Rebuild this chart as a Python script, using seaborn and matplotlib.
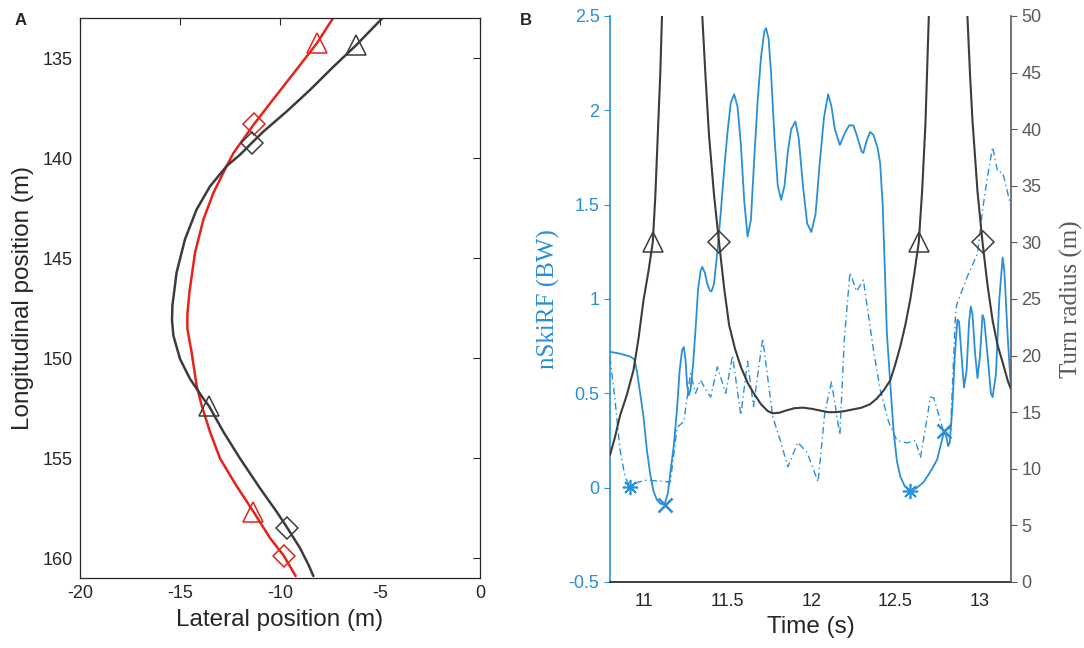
import numpy as np
import matplotlib
matplotlib.use("Agg")
import matplotlib.pyplot as plt
import seaborn as sns

# ---- panel A: trajectories (lateral, longitudinal) ----
red_lat = [-7.35, -8.15, -9.12, -9.9, -10.68, -11.3, -12.33, -12.67, -13.33, -13.83,
           -14.25, -14.53, -14.63, -14.63, -14.42, -14.17, -13.92, -13.5, -13.0,
           -12.2, -11.33, -10.5, -9.8, -9.22]
red_lon = [133.0, 134.25, 135.5, 136.5, 137.5, 138.3, 139.75, 140.4, 141.74, 143.07,
           144.73, 146.72, 147.8, 148.55, 149.71, 151.37, 152.36, 153.69, 155.02,
           156.35, 157.68, 159.0, 159.9, 160.9]
gray_lat = [-4.88, -6.2, -7.33, -8.5, -9.67, -10.83, -11.42, -12.0, -12.67, -13.5,
            -14.17, -14.75, -15.17, -15.38, -15.4, -15.33, -15.0, -14.5, -13.83,
            -13.55, -12.83, -12.0, -11.0, -10.17, -9.63, -9.0, -8.58, -8.33]
gray_lon = [133.0, 134.36, 135.43, 136.59, 137.67, 138.67, 139.25, 139.83, 140.4, 141.41,
            142.57, 144.06, 145.72, 147.38, 148.1, 148.88, 150.04, 151.04, 152.03,
            152.4, 153.69, 155.02, 156.51, 157.68, 158.5, 159.5, 160.33, 160.9]
red_tri = ([-8.15, -11.35], [134.25, 157.7])
red_dia = ([-11.3, -9.8], [138.3, 159.9])
gray_tri = ([-6.2, -13.55], [134.35, 152.4])
gray_dia = ([-11.4, -9.65], [139.25, 158.5])

# ---- panel B: nSkiRF (left axis) ----
t_solid = [10.80, 10.86, 10.92, 10.945, 10.96, 10.98, 11.00, 11.02, 11.04, 11.06,
           11.08, 11.10, 11.125, 11.145, 11.16, 11.18, 11.20, 11.215, 11.23, 11.24,
           11.25, 11.26, 11.27, 11.28, 11.295, 11.31, 11.325, 11.34, 11.35, 11.365,
           11.38, 11.395, 11.405, 11.42, 11.44, 11.46, 11.48, 11.50, 11.52, 11.54,
           11.56, 11.58, 11.60, 11.62, 11.64, 11.66, 11.68, 11.70, 11.72, 11.73,
           11.745, 11.76, 11.78, 11.80, 11.82, 11.84, 11.86, 11.88, 11.905, 11.925,
           11.95, 11.975, 12.00, 12.025, 12.05, 12.075, 12.10, 12.12, 12.14, 12.17,
           12.20, 12.225, 12.25, 12.27, 12.30, 12.31, 12.33, 12.35, 12.37, 12.395,
           12.41, 12.425, 12.44, 12.45, 12.47, 12.49, 12.51, 12.53, 12.555, 12.585,
           12.63, 12.67, 12.72, 12.75, 12.775, 12.79, 12.805, 12.815, 12.825, 12.84,
           12.855, 12.87, 12.88, 12.895, 12.91, 12.925, 12.94, 12.95, 12.96, 12.975,
           12.99, 13.005, 13.02, 13.03, 13.05, 13.07, 13.08, 13.10, 13.12, 13.14,
           13.15, 13.17, 13.19]
f_solid = [0.72, 0.71, 0.695, 0.68, 0.62, 0.50, 0.375, 0.20, 0.07, -0.02,
           -0.065, -0.085, -0.09, -0.03, 0.08, 0.22, 0.42, 0.62, 0.73, 0.745,
           0.68, 0.54, 0.49, 0.52, 0.65, 0.84, 1.05, 1.15, 1.17, 1.14,
           1.08, 1.045, 1.04, 1.08, 1.25, 1.456, 1.68, 1.88, 2.04, 2.085,
           2.02, 1.82, 1.52, 1.33, 1.42, 1.75, 2.05, 2.28, 2.42, 2.435,
           2.38, 2.2, 1.86, 1.6, 1.525, 1.6, 1.78, 1.9, 1.94, 1.85,
           1.6, 1.4, 1.355, 1.45, 1.72, 1.96, 2.085, 2.02, 1.9, 1.816,
           1.88, 1.92, 1.92, 1.87, 1.78, 1.774, 1.84, 1.885, 1.87, 1.8,
           1.72, 1.5, 1.1, 0.82, 0.555, 0.30, 0.14, 0.06, 0.01, -0.02,
           0.0, 0.03, 0.1, 0.15, 0.24, 0.295, 0.27, 0.22, 0.24, 0.42,
           0.7, 0.89, 0.88, 0.7, 0.53, 0.62, 0.88, 0.96, 0.92, 0.72,
           0.58, 0.7, 0.915, 0.89, 0.7, 0.5, 0.48, 0.6, 1.0, 1.22,
           1.15, 0.8, 0.52]
t_dash = [10.80, 10.83, 10.86, 10.89, 10.92, 10.97, 11.02, 11.09, 11.16, 11.20,
          11.24, 11.28, 11.31, 11.34, 11.37, 11.40, 11.44, 11.49, 11.53, 11.58,
          11.62, 11.655, 11.71, 11.77, 11.815, 11.86, 11.92, 11.976, 12.04, 12.08,
          12.12, 12.17, 12.196, 12.23, 12.27, 12.31, 12.37, 12.41, 12.46, 12.51,
          12.57, 12.62, 12.65, 12.71, 12.73, 12.79, 12.83, 12.86, 12.87, 12.93,
          12.99, 13.02, 13.05, 13.08, 13.11, 13.14, 13.19]
f_dash = [0.69, 0.465, 0.2, 0.056, 0.005, 0.03, 0.04, 0.035, 0.03, 0.32,
          0.35, 0.605, 0.5, 0.57, 0.52, 0.48, 0.64, 0.50, 0.70, 0.385,
          0.67, 0.43, 0.79, 0.375, 0.25, 0.11, 0.24, 0.184, 0.03, 0.396,
          0.56, 0.28, 0.78, 1.14, 1.04, 1.10, 0.73, 0.52, 0.35, 0.25,
          0.237, 0.25, 0.157, 0.48, 0.475, 0.29, 0.32, 0.94, 0.98, 1.12,
          1.24, 1.47, 1.65, 1.805, 1.675, 1.67, 1.49]
star_pts = ([10.92, 12.585], [0.005, -0.02])
x_pts = ([11.125, 12.79], [-0.09, 0.3])

# ---- panel B: turn radius (right axis), three branches ----
t_rad1 = [10.80, 10.83, 10.86, 10.90, 10.94, 10.97, 11.0, 11.03, 11.055, 11.07,
          11.085, 11.10, 11.11]
r_rad1 = [11.2, 12.8, 14.7, 16.5, 18.7, 21.5, 24.9, 27.5, 30.0, 34.0,
          39.5, 45.0, 50.0]
t_rad2 = [11.35, 11.37, 11.39, 11.42, 11.45, 11.48, 11.51, 11.545, 11.58, 11.62,
          11.655, 11.70, 11.74, 11.77, 11.81, 11.85, 11.90, 11.95, 12.00, 12.05,
          12.10, 12.15, 12.20, 12.25, 12.30, 12.35, 12.39, 12.43, 12.47, 12.50,
          12.53, 12.56, 12.59, 12.615, 12.64, 12.66, 12.68, 12.70]
r_rad2 = [50.0, 44.5, 39.5, 34.2, 30.0, 26.0, 22.7, 20.6, 19.0, 17.6,
          16.7, 15.7, 15.1, 14.9, 14.95, 15.15, 15.35, 15.4, 15.3, 15.15,
          15.0, 15.0, 15.1, 15.25, 15.4, 15.7, 16.2, 16.9, 17.8, 19.2,
          20.8, 22.7, 25.0, 27.4, 30.0, 34.5, 40.5, 50.0]
t_rad3 = [12.93, 12.945, 12.96, 12.99, 13.02, 13.05, 13.08, 13.11, 13.14, 13.17, 13.19]
r_rad3 = [50.0, 45.0, 40.8, 34.5, 30.0, 26.2, 23.1, 20.9, 19.4, 17.8, 17.0]
rad_tri = ([11.055, 12.64], [30, 30])
rad_dia = ([11.45, 13.02], [30, 30])

RED = "#e5231b"
DARK = "#3c3c3c"
BLUE = "#2a8fd6"
GRAYAX = "#5a5a5a"
INK = "#262626"

sns.set_theme(style="white")
plt.rcParams["font.family"] = ["Liberation Sans", "DejaVu Sans"]
plt.rcParams["axes.unicode_minus"] = False

fig = plt.figure(figsize=(10.84, 6.48), dpi=100)

# Panel A
axA = fig.add_axes([0.0738, 0.108, 0.369, 0.864])
sns.lineplot(x=red_lat, y=red_lon, sort=False, estimator=None, color=RED, lw=1.8, ax=axA)
sns.lineplot(x=gray_lat, y=gray_lon, sort=False, estimator=None, color=DARK, lw=1.8, ax=axA)
axA.plot(*red_tri, ls="none", marker="^", ms=15, mfc="none", mec=RED, mew=1.1)
axA.plot(*red_dia, ls="none", marker="D", ms=11, mfc="none", mec=RED, mew=1.1)
axA.plot(*gray_tri, ls="none", marker="^", ms=15, mfc="none", mec=DARK, mew=1.1)
axA.plot(*gray_dia, ls="none", marker="D", ms=11, mfc="none", mec=DARK, mew=1.1)
axA.set_xlim(-20, 0)
axA.set_ylim(161, 133)
axA.set_xticks([-20, -15, -10, -5, 0])
axA.set_yticks([135, 140, 145, 150, 155, 160])
axA.tick_params(direction="in", length=5, top=True, right=True, labelsize=13,
                colors=INK, width=0.8, pad=5)
for s in axA.spines.values():
    s.set_color(INK)
    s.set_linewidth(0.9)
axA.set_xlabel("Lateral position (m)", fontsize=17.5, labelpad=5)
axA.set_ylabel("Longitudinal position (m)", fontsize=17.5, labelpad=6)
fig.text(0.013, 0.962, "A", fontsize=12, fontweight="bold")

# Panel B
axB = fig.add_axes([0.5627, 0.1019, 0.370, 0.8735])
axR = axB.twinx()
sns.lineplot(x=t_solid, y=f_solid, sort=False, estimator=None, color=BLUE, lw=1.3, ax=axB)
sns.lineplot(x=t_dash, y=f_dash, sort=False, estimator=None, color=BLUE, lw=1.0,
             ax=axB, linestyle=(0, (5, 2.5, 1, 2.5)))
axB.plot(*star_pts, ls="none", marker=(8, 2, 0), ms=11, mec=BLUE, mew=1.2)
axB.plot(*x_pts, ls="none", marker="x", ms=10, mec=BLUE, mew=1.8)
for tt, rr in [(t_rad1, r_rad1), (t_rad2, r_rad2), (t_rad3, r_rad3)]:
    sns.lineplot(x=tt, y=rr, sort=False, estimator=None, color=DARK, lw=1.5, ax=axR)
axR.plot(*rad_tri, ls="none", marker="^", ms=15, mfc="none", mec=DARK, mew=1.1)
axR.plot(*rad_dia, ls="none", marker="D", ms=11, mfc="none", mec=DARK, mew=1.1)

axB.set_xlim(10.8, 13.19)
axB.set_ylim(-0.5, 2.5)
axR.set_ylim(0, 50)
axB.set_xticks([11, 11.5, 12, 12.5, 13])
axB.set_xticklabels(["11", "11.5", "12", "12.5", "13"])
axB.set_yticks([-0.5, 0, 0.5, 1, 1.5, 2, 2.5])
axB.set_yticklabels(["-0.5", "0", "0.5", "1", "1.5", "2", "2.5"])
axR.set_yticks(range(0, 51, 5))
axB.tick_params(axis="x", direction="out", length=0, labelsize=13, colors=INK, pad=8)
axB.tick_params(axis="y", direction="out", length=4, labelsize=13, colors=BLUE,
                left=True, width=0.8)
axR.tick_params(axis="y", direction="out", length=4, labelsize=13, colors=GRAYAX,
                right=True, width=0.8)
axB.spines["top"].set_visible(False)
axB.spines["right"].set_visible(False)
axB.spines["left"].set_color(BLUE)
axB.spines["bottom"].set_color(INK)
axR.spines["top"].set_visible(False)
axR.spines["left"].set_visible(False)
axR.spines["bottom"].set_visible(False)
axR.spines["right"].set_color(GRAYAX)
axR.spines["right"].set_linewidth(1.2)
axB.spines["left"].set_linewidth(1.2)
axB.set_xlabel("Time (s)", fontsize=17.5, labelpad=4)
axB.set_ylabel("nSkiRF (BW)", fontsize=18, color=BLUE, family="Liberation Serif",
               labelpad=6)
axR.set_ylabel("Turn radius (m)", fontsize=18, color=GRAYAX, family="Liberation Serif",
               labelpad=13)
fig.text(0.480, 0.962, "B", fontsize=12, fontweight="bold")

fig.savefig("out.png", dpi=100)
